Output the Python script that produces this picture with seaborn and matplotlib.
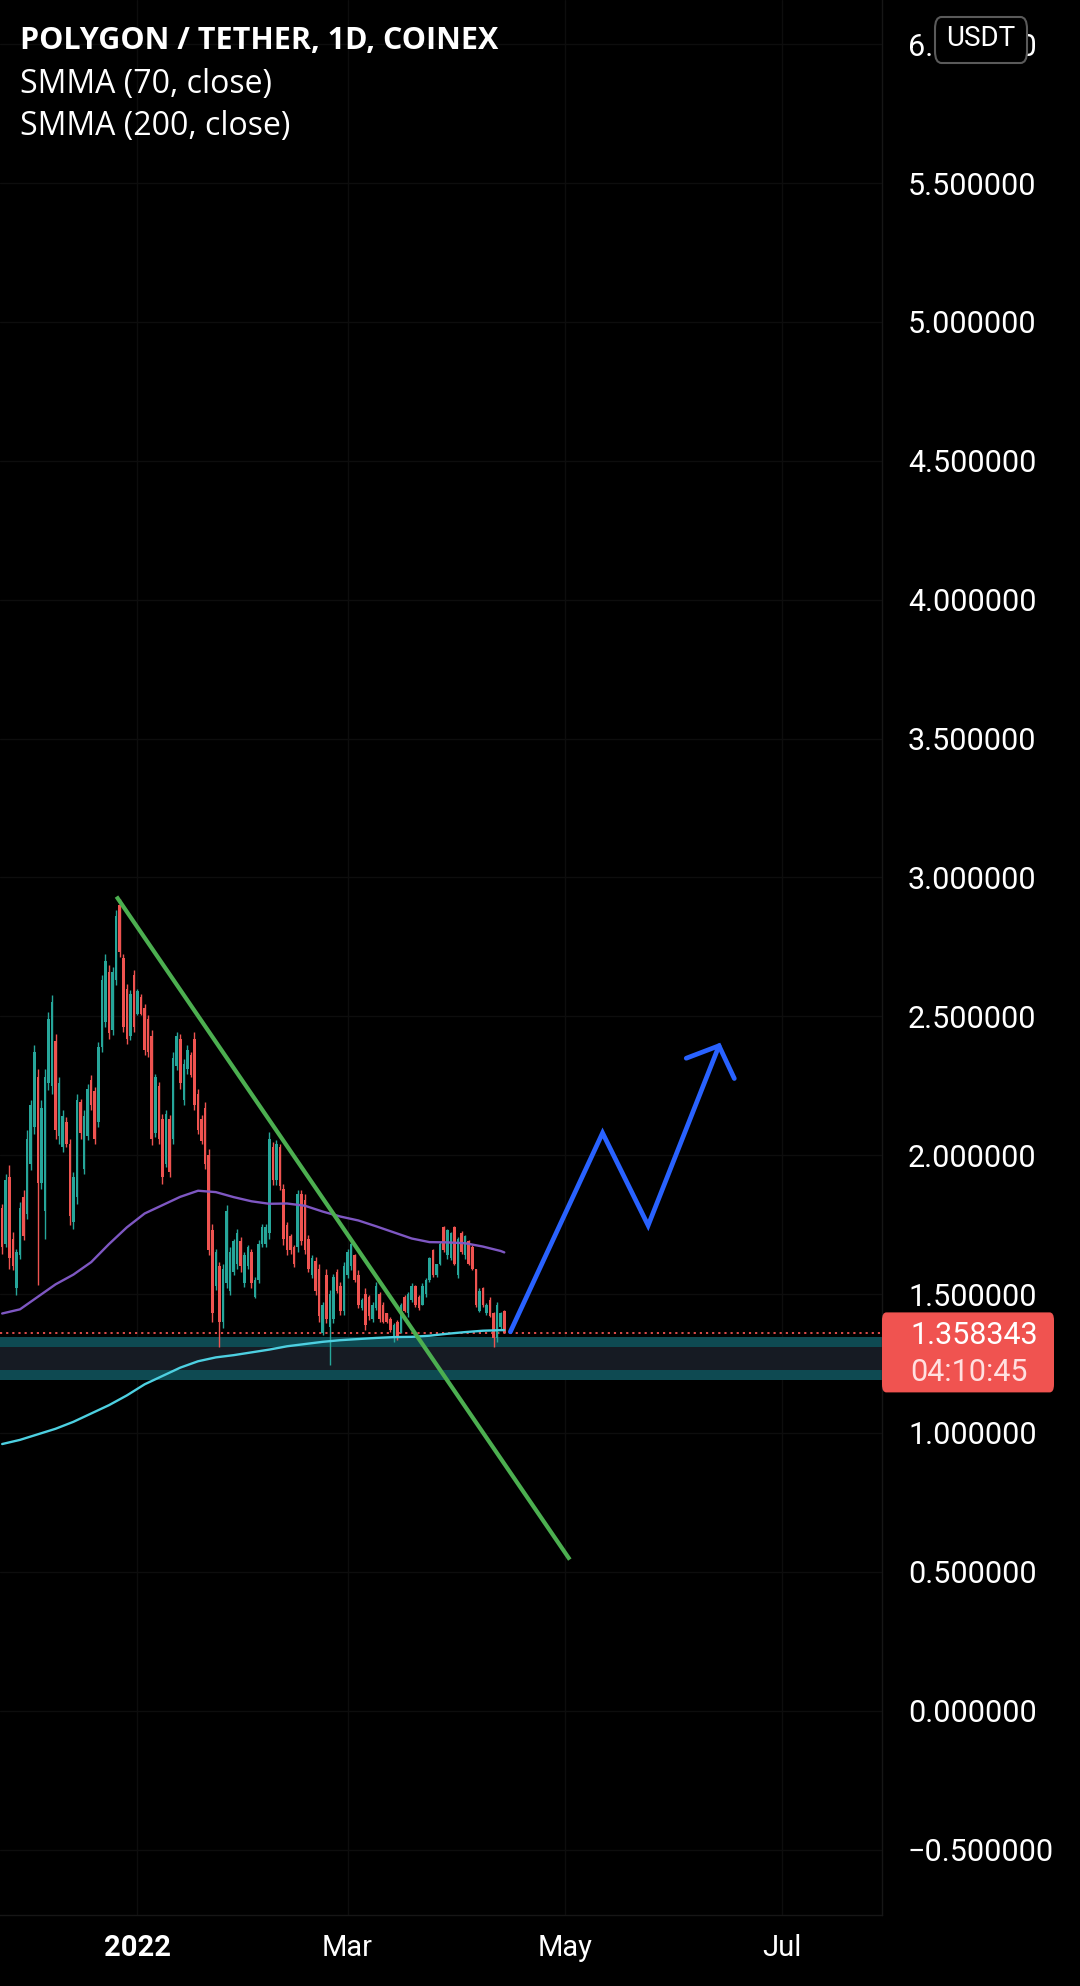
import numpy as np
import pandas as pd
import matplotlib
matplotlib.use("Agg")
import matplotlib.pyplot as plt
import seaborn as sns
from matplotlib.patches import FancyBboxPatch

# ---------------- data ----------------
first_day = "2021-11-24"          # first daily candle
open_ = [
    1.81, 1.68, 1.92, 1.70, 1.52, 1.64, 1.85, 1.79, 1.97, 2.10,
    2.28, 1.90, 1.80, 2.26, 2.25, 2.41, 2.07, 2.03, 2.12, 2.04,
    1.76, 1.85, 2.19, 1.95, 2.07, 2.27, 2.23, 2.12, 2.39, 2.48,
    2.66, 2.45, 2.63, 2.90, 2.71, 2.60, 2.43, 2.65, 2.51, 2.57,
    2.53, 2.49, 2.43, 2.08, 2.25, 2.13, 1.97, 2.13, 2.06, 2.32,
    2.42, 2.20, 2.31, 2.36, 2.42, 2.22, 2.13, 2.17, 2.00, 1.73,
    1.53, 1.60, 1.40, 1.54, 1.51, 1.58, 1.61, 1.69, 1.54, 1.60,
    1.65, 1.49, 1.55, 1.68, 1.68, 1.72, 2.03, 1.91, 2.03, 1.88,
    1.75, 1.71, 1.67, 1.67, 1.86, 1.84, 1.70, 1.57, 1.62, 1.59,
    1.36, 1.57, 1.38, 1.41, 1.58, 1.53, 1.44, 1.57, 1.60, 1.64,
    1.57, 1.45, 1.50, 1.49, 1.41, 1.45, 1.50, 1.46, 1.43, 1.41,
    1.34, 1.40, 1.36, 1.49, 1.43, 1.48, 1.53, 1.49, 1.46, 1.50,
    1.55, 1.66, 1.57, 1.61, 1.74, 1.64, 1.63, 1.74, 1.57, 1.72,
    1.64, 1.69, 1.67, 1.59, 1.44, 1.52, 1.43, 1.48, 1.43, 1.34,
    1.38, 1.44]
high = [
    1.826, 1.934, 1.964, 1.724, 1.664, 1.832, 1.874, 2.090, 2.198, 2.396,
    2.312, 2.198, 2.312, 2.516, 2.576, 2.438, 2.282, 2.162, 2.138, 2.060,
    1.940, 2.222, 2.204, 2.162, 2.258, 2.288, 2.246, 2.408, 2.648, 2.726,
    2.684, 2.678, 2.882, 2.924, 2.726, 2.618, 2.594, 2.666, 2.600, 2.582,
    2.546, 2.504, 2.450, 2.294, 2.264, 2.150, 2.162, 2.144, 2.372, 2.444,
    2.438, 2.348, 2.396, 2.372, 2.444, 2.240, 2.144, 2.192, 2.024, 1.754,
    1.664, 1.616, 1.610, 1.820, 1.670, 1.700, 1.736, 1.706, 1.652, 1.676,
    1.664, 1.562, 1.694, 1.754, 1.754, 2.084, 2.048, 2.054, 2.042, 1.898,
    1.760, 1.718, 1.676, 1.874, 1.874, 1.862, 1.712, 1.640, 1.634, 1.610,
    1.472, 1.592, 1.514, 1.574, 1.592, 1.544, 1.616, 1.664, 1.688, 1.646,
    1.586, 1.484, 1.520, 1.496, 1.472, 1.544, 1.508, 1.472, 1.430, 1.418,
    1.394, 1.406, 1.466, 1.496, 1.508, 1.538, 1.532, 1.496, 1.538, 1.556,
    1.634, 1.664, 1.610, 1.688, 1.744, 1.736, 1.724, 1.744, 1.706, 1.726,
    1.712, 1.694, 1.676, 1.592, 1.520, 1.526, 1.466, 1.490, 1.436, 1.472,
    1.436, 1.442]
low = [
    1.646, 1.670, 1.592, 1.586, 1.496, 1.628, 1.694, 1.772, 1.946, 2.078,
    1.532, 1.880, 1.700, 2.234, 2.222, 2.060, 2.042, 2.012, 2.030, 1.748,
    1.736, 1.826, 2.060, 1.934, 2.054, 2.162, 2.042, 2.102, 2.372, 2.462,
    2.420, 2.432, 2.612, 2.714, 2.444, 2.402, 2.414, 2.444, 2.504, 2.504,
    2.360, 2.354, 2.036, 2.066, 2.042, 1.898, 1.958, 1.922, 2.042, 2.306,
    2.240, 2.180, 2.294, 2.282, 2.162, 2.078, 2.042, 1.952, 1.640, 1.400,
    1.514, 1.310, 1.376, 1.520, 1.496, 1.568, 1.592, 1.580, 1.526, 1.592,
    1.520, 1.484, 1.538, 1.670, 1.670, 1.700, 1.892, 1.892, 1.874, 1.676,
    1.640, 1.646, 1.598, 1.652, 1.676, 1.646, 1.580, 1.556, 1.496, 1.400,
    1.352, 1.394, 1.244, 1.394, 1.502, 1.424, 1.424, 1.556, 1.586, 1.544,
    1.448, 1.442, 1.370, 1.406, 1.400, 1.442, 1.400, 1.394, 1.394, 1.364,
    1.328, 1.334, 1.358, 1.436, 1.418, 1.472, 1.454, 1.442, 1.460, 1.490,
    1.544, 1.562, 1.562, 1.604, 1.652, 1.628, 1.622, 1.604, 1.556, 1.646,
    1.628, 1.604, 1.586, 1.454, 1.436, 1.454, 1.424, 1.418, 1.310, 1.328,
    1.370, 1.358]
close = [
    1.67, 1.91, 1.63, 1.60, 1.65, 1.81, 1.71, 2.06, 2.18, 2.37,
    1.90, 2.17, 2.28, 2.49, 2.55, 2.09, 2.26, 2.14, 2.04, 1.78,
    1.92, 2.20, 2.08, 2.14, 2.24, 2.18, 2.06, 2.39, 2.63, 2.70,
    2.44, 2.66, 2.86, 2.73, 2.46, 2.42, 2.58, 2.46, 2.59, 2.51,
    2.38, 2.37, 2.06, 2.28, 2.06, 1.92, 2.15, 1.94, 2.35, 2.43,
    2.26, 2.33, 2.38, 2.29, 2.18, 2.09, 2.05, 1.97, 1.66, 1.43,
    1.65, 1.40, 1.59, 1.80, 1.65, 1.69, 1.72, 1.60, 1.64, 1.67,
    1.54, 1.55, 1.68, 1.74, 1.74, 2.06, 1.91, 2.04, 1.89, 1.70,
    1.66, 1.66, 1.61, 1.86, 1.69, 1.66, 1.59, 1.63, 1.51, 1.42,
    1.46, 1.41, 1.50, 1.56, 1.51, 1.44, 1.60, 1.65, 1.68, 1.55,
    1.46, 1.48, 1.39, 1.42, 1.46, 1.53, 1.41, 1.40, 1.40, 1.37,
    1.39, 1.34, 1.46, 1.44, 1.50, 1.53, 1.46, 1.45, 1.53, 1.55,
    1.63, 1.57, 1.61, 1.68, 1.66, 1.73, 1.72, 1.61, 1.70, 1.65,
    1.71, 1.61, 1.59, 1.46, 1.51, 1.46, 1.46, 1.42, 1.34, 1.46,
    1.43, 1.358343]

# SMMA lines: day offsets from 2022-01-01 and values
smma_days = [-38, -33, -28, -23, -18, -13, -8, -3, 2, 7, 12, 17, 22, 27, 32,
             37, 42, 47, 52, 57, 62, 67, 72, 77, 82, 87, 92, 97, 102, 103]
smma70 = [1.43, 1.445, 1.49, 1.535, 1.57, 1.615, 1.68, 1.74, 1.79, 1.82, 1.85,
          1.872, 1.867, 1.849, 1.834, 1.825, 1.826, 1.818, 1.797, 1.779,
          1.765, 1.744, 1.722, 1.700, 1.687, 1.686, 1.683, 1.671, 1.655, 1.650]
smma200 = [0.96, 0.975, 0.995, 1.015, 1.04, 1.07, 1.10, 1.135, 1.175, 1.205,
           1.235, 1.258, 1.272, 1.280, 1.290, 1.300, 1.312, 1.320, 1.328,
           1.334, 1.338, 1.342, 1.345, 1.346, 1.350, 1.357, 1.363, 1.368,
           1.370, 1.370]

# drawings
trend_days = [-5.9, 121.4]
trend_vals = [2.931, 0.544]
proj_days = [104.7, 130.6, 143.4, 163.3]
proj_vals = [1.364, 2.080, 1.747, 2.394]
head_days = [154.1, 163.3, 167.6]
head_vals = [2.349, 2.394, 2.276]
zone_edges = [1.190, 1.226, 1.309, 1.345]

last_price = 1.358343
countdown = "04:10:45"
price_ticks = [-0.5, 0.0, 0.5, 1.0, 1.5, 2.0, 2.5, 3.0, 3.5, 4.0, 4.5, 5.0, 5.5, 6.0]
date_ticks = ["2022-01-01", "2022-03-01", "2022-05-01", "2022-07-01"]
date_labels = ["2022", "Mar", "May", "Jul"]
title_lines = ["POLYGON / TETHER, 1D, COINEX", "SMMA (70, close)", "SMMA (200, close)"]

# ---------------- styling ----------------
sns.set_theme(style="dark")
plt.rcParams['font.family'] = ['Roboto', 'DejaVu Sans']

BG = '#000000'
UP = '#26a69a'
DOWN = '#ef5350'
W, H = 1080, 1986

fig = plt.figure(figsize=(W / 100, H / 100), dpi=100, facecolor=BG)
ax = fig.add_axes([0, 71 / H, 882 / W, 1915 / H])
ax.set_facecolor(BG)

base = pd.Timestamp("2022-01-01")
def day(x):
    return base + pd.to_timedelta(np.asarray(x, dtype=float), unit="D")

o = np.array(open_); hi = np.array(high); lo = np.array(low); c = np.array(close)
assert len(o) == len(hi) == len(lo) == len(c)
dates = pd.date_range(first_day, periods=len(c), freq="D")
cols = np.where(c >= o, UP, DOWN)

# support zone
ax.axhspan(zone_edges[0], zone_edges[1], color='#0e4a52', lw=0, zorder=1)
ax.axhspan(zone_edges[1], zone_edges[2], color='#161b23', lw=0, zorder=1)
ax.axhspan(zone_edges[2], zone_edges[3], color='#0e4a52', lw=0, zorder=1)

# candles
ax.vlines(dates, lo, hi, colors=cols, linewidth=1.0, zorder=3)
ax.bar(dates, np.abs(c - o), bottom=np.minimum(o, c), width=0.72,
       color=cols, linewidth=0, zorder=3)

# SMMA lines
sns.lineplot(x=day(smma_days), y=smma70, ax=ax, color='#7e57c2', linewidth=1.7,
             estimator=None, sort=False, zorder=4)
sns.lineplot(x=day(smma_days), y=smma200, ax=ax, color='#4dd0e1', linewidth=1.7,
             estimator=None, sort=False, zorder=4)

# last price dotted line
ax.axhline(last_price, color=DOWN, linestyle=(0, (1.2, 2.2)), linewidth=1.3, zorder=2)

# trend line and projection arrow
sns.lineplot(x=day(trend_days), y=trend_vals, ax=ax, color='#4caf50', linewidth=3.0,
             estimator=None, sort=False, zorder=5, solid_capstyle='butt')
sns.lineplot(x=day(proj_days), y=proj_vals, ax=ax, color='#2962ff', linewidth=3.4,
             estimator=None, sort=False, zorder=5, solid_capstyle='round',
             solid_joinstyle='miter')
sns.lineplot(x=day(head_days), y=head_vals, ax=ax, color='#2962ff', linewidth=3.4,
             estimator=None, sort=False, zorder=5, solid_capstyle='round',
             solid_joinstyle='miter')

# axes limits
ax.set_xlim(base - pd.Timedelta(days=38.61), base + pd.Timedelta(days=209.07))
ax.set_ylim(-0.7356, 6.159)

# grid
ax.grid(True, color='#0d0d0d', linewidth=1.0)
for s in ['top', 'left']:
    ax.spines[s].set_visible(False)
for s in ['right', 'bottom']:
    ax.spines[s].set_visible(True)
    ax.spines[s].set_color('#161616')
    ax.spines[s].set_linewidth(1.0)

# y ticks on the right
ax.yaxis.tick_right()
ax.set_yticks(price_ticks)
ax.set_yticklabels([("\u2212" if v < 0 else "") + f"{abs(v):.6f}" for v in price_ticks])
ax.tick_params(axis='y', length=0, pad=18.7, labelsize=22, labelcolor='white')

# x ticks
ax.set_xticks(pd.to_datetime(date_ticks))
ax.set_xticklabels(date_labels)
ax.tick_params(axis='x', length=0, pad=14.0, labelsize=21, labelcolor='white')
ax.get_xticklabels()[0].set_fontweight('bold')
ax.set_xlabel('')
ax.set_ylabel('')

# header texts
fig.text(20 / W, 1 - 41 / H, title_lines[0], color='white', fontsize=22,
         fontweight='bold', family=['Open Sans', 'DejaVu Sans'], va='center', ha='left')
fig.text(20 / W, 1 - 85 / H, title_lines[1], color='white', fontsize=23,
         family=['Open Sans', 'DejaVu Sans'], va='center', ha='left')
fig.text(20 / W, 1 - 127 / H, title_lines[2], color='white', fontsize=23,
         family=['Open Sans', 'DejaVu Sans'], va='center', ha='left')

# USDT currency badge
badge = FancyBboxPatch((935 / W, 1 - 63 / H), 92 / W, 46 / H,
                       boxstyle="round,pad=0,rounding_size=0.006",
                       transform=fig.transFigure, facecolor=BG,
                       edgecolor='#5a5a5a', linewidth=1.5, zorder=5)
fig.add_artist(badge)
fig.text(981 / W, 1 - 39 / H, "USDT", color='white', fontsize=20,
         va='center', ha='center', zorder=6)

# last price label, anchored on the price level
y_disp = ax.transData.transform((ax.get_xlim()[0], last_price))[1]
box_top = y_disp + 21
box_bot = y_disp - 59
plabel = FancyBboxPatch((882 / W, box_bot / H), 172 / W, (box_top - box_bot) / H,
                        boxstyle="round,pad=0,rounding_size=0.004",
                        transform=fig.transFigure, facecolor='#f05350',
                        edgecolor='none', zorder=5)
fig.add_artist(plabel)
fig.text(910 / W, (y_disp - 2) / H, f"{last_price:.6f}", color='white', fontsize=22,
         va='center', ha='left', zorder=6)
fig.text(910 / W, (y_disp - 39) / H, countdown, color='#ffe0e0', fontsize=22,
         va='center', ha='left', zorder=6)

fig.savefig("out.png", dpi=100, facecolor=BG)
